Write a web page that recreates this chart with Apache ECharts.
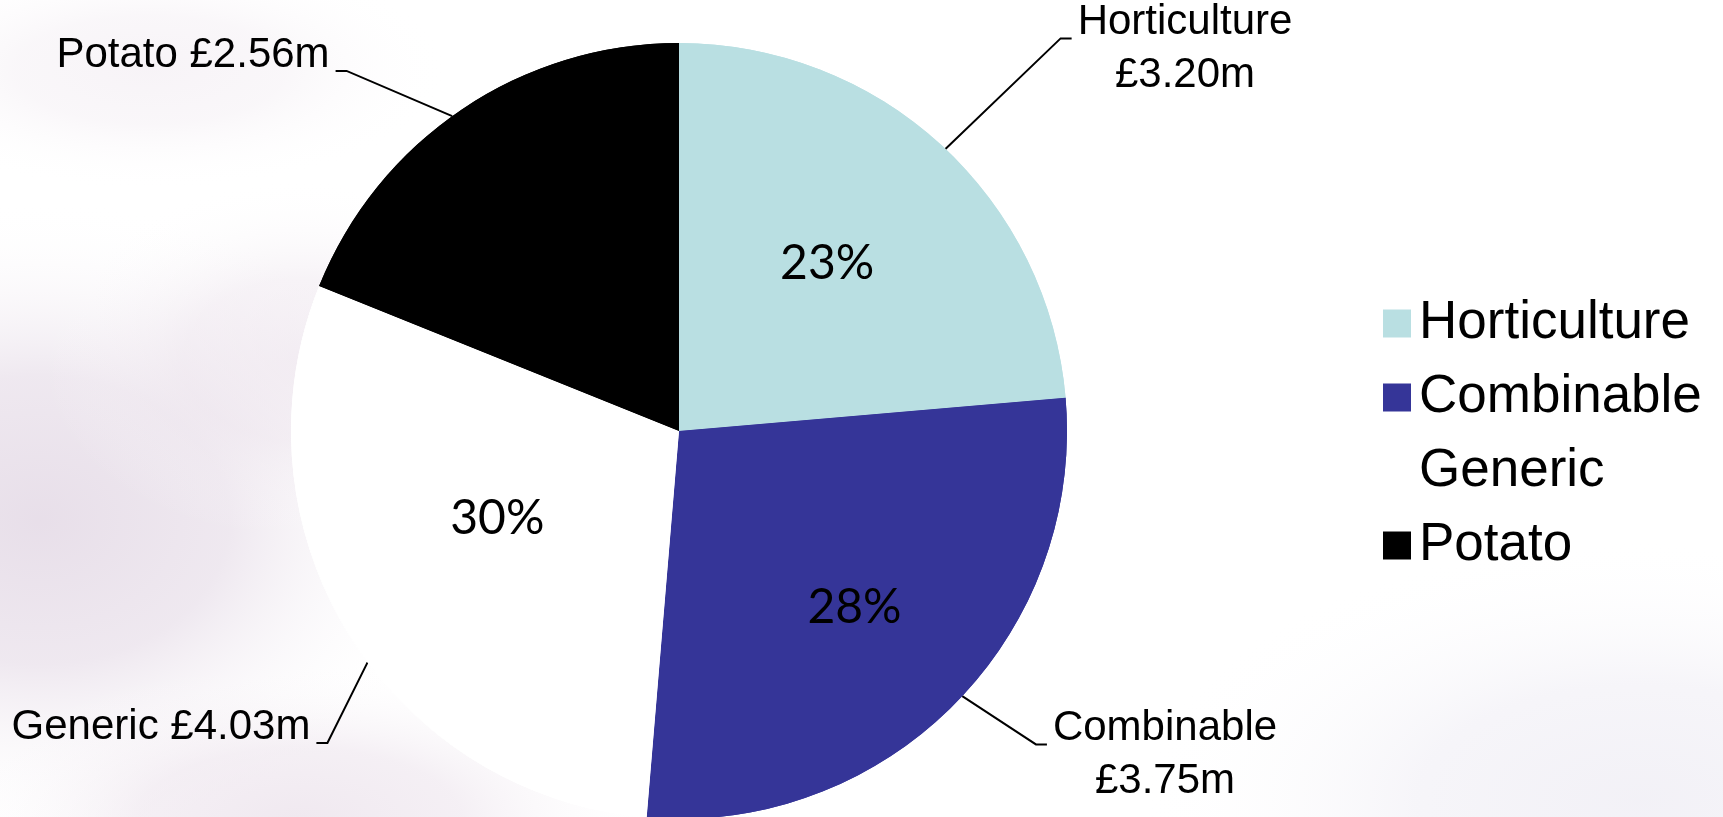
<!DOCTYPE html>
<html><head><meta charset="utf-8">
<script src="https://cdn.jsdelivr.net/npm/echarts@6/dist/echarts.min.js"></script>
<style>html,body{margin:0;padding:0;background:#fff}#chart{width:1723px;height:817px}</style>
</head><body><div id="chart"></div>
<script>
// ---- data ----
const categories = ['Horticulture', 'Combinable', 'Generic', 'Potato'];
const valuesGBPm = [3.20, 3.75, 4.03, 2.56];
const percentLabels = ['23%', '28%', '30%', ''];
const sliceColors = ['#b9dfe2', '#353598', '#ffffff', '#000000'];

// ---- layout ----
const CX = 679, CY = 431, R = 388;
const LINE_H = 53;
const calloutLayout = {
  Horticulture: { x: 1185, y: 49, wrap: true, side: 'left' },
  Combinable: { x: 1165, y: 755, wrap: true, side: 'left' },
  Generic: { x: 161, y: 727, wrap: false, side: 'right' },
  Potato: { x: 193, y: 55, wrap: false, side: 'right' }
};
const pctOffset = { Horticulture: [15, -22], Combinable: [36, 37], Generic: [-14, -16], Potato: [0, 0] };

const total = valuesGBPm.reduce((a, b) => a + b, 0);
const midAngles = [];
(function () {
  let acc = 0;
  valuesGBPm.forEach(v => {
    const a0 = 90 - acc / total * 360; acc += v;
    const a1 = 90 - acc / total * 360;
    midAngles.push((a0 + a1) / 2);
  });
})();

const chart = echarts.init(document.getElementById('chart'), null, { renderer: 'canvas' });

function glow(x, y, rx, ry, color) {
  return {
    type: 'circle', z: 0, silent: true,
    x: x, y: y, scaleX: rx / 100, scaleY: ry / 100,
    shape: { cx: 0, cy: 0, r: 100 },
    style: {
      fill: new echarts.graphic.RadialGradient(0.5, 0.5, 0.5, [
        { offset: 0, color: color },
        { offset: 0.45, color: color.replace(/[\d.]+\)$/, m => (parseFloat(m) * 0.7).toFixed(3) + ')') },
        { offset: 1, color: 'rgba(255,255,255,0)' }
      ])
    }
  };
}

const mainData = categories.map((n, i) => ({
  name: n, value: valuesGBPm[i],
  itemStyle: { color: sliceColors[i] },
  label: { show: percentLabels[i] !== '', offset: pctOffset[n] }
}));
const calloutData = categories.map((n, i) => ({
  name: n, value: valuesGBPm[i],
  itemStyle: { color: sliceColors[i] }
}));

chart.setOption({
  animation: false,
  backgroundColor: '#ffffff',
  graphic: [
    glow(40, 520, 420, 320, 'rgba(224,212,226,0.75)'),
    glow(300, 360, 260, 180, 'rgba(234,224,234,0.55)'),
    glow(300, 820, 360, 160, 'rgba(230,218,230,0.6)'),
    glow(150, 70, 300, 120, 'rgba(242,236,242,0.6)'),
    glow(1640, 800, 500, 260, 'rgba(237,235,243,0.7)')
  ],
  legend: {
    orient: 'vertical', left: 1378, top: 292,
    icon: 'rect', itemWidth: 28, itemHeight: 28, itemGap: 21,
    selectedMode: false,
    data: categories,
    textStyle: { fontFamily: 'Liberation Sans, Arial, sans-serif', fontSize: 53, color: '#000', padding: [0, 0, 0, 3] }
  },
  series: [
    {
      type: 'pie', z: 3, silent: true,
      center: [CX, CY], radius: R, startAngle: 90, clockwise: true,
      emphasis: { disabled: true },
      label: {
        show: true, position: 'inside',
        formatter: p => percentLabels[p.dataIndex],
        fontFamily: 'Lato, Carlito, sans-serif', fontSize: 48, color: '#000'
      },
      labelLine: { show: false },
      data: mainData
    },
    {
      type: 'pie', z: 2, silent: true, legendHoverLink: false,
      center: [CX, CY], radius: R, startAngle: 90, clockwise: true,
      avoidLabelOverlap: false,
      emphasis: { disabled: true },
      label: {
        show: true, position: 'outside',
        formatter: p => {
          const cfg = calloutLayout[p.name];
          const v = '£' + p.value.toFixed(2) + 'm';
          return cfg.wrap ? p.name + '\n' + v : p.name + ' ' + v;
        },
        fontFamily: 'Liberation Sans, Arial, sans-serif', fontSize: 42,
        lineHeight: LINE_H, color: '#000', align: 'center'
      },
      labelLine: { show: true, length: 20, length2: 10, lineStyle: { color: '#000', width: 2 } },
      labelLayout: function (params) {
        const i = params.dataIndex;
        const cfg = calloutLayout[categories[i]];
        const w = params.labelRect.width, h = params.labelRect.height;
        const left = cfg.x - w / 2, top = cfg.y - h / 2;
        const tickY = top + LINE_H * 0.8;
        const edgeX = cfg.side === 'left' ? left - 6 : left + w + 6;
        const elbowX = cfg.side === 'left' ? edgeX - 11 : edgeX + 11;
        let dirAng = Math.atan2(-(tickY - CY), elbowX - CX) * 180 / Math.PI;
        const mid = midAngles[i];
        while (dirAng - mid > 180) dirAng -= 360;
        while (dirAng - mid < -180) dirAng += 360;
        const wMid = cfg.side === 'right' && !cfg.wrap && i === 3 ? 0.8 : 0.5;
        const a = (mid * wMid + dirAng * (1 - wMid)) * Math.PI / 180;
        const start = [CX + R * Math.cos(a), CY - R * Math.sin(a)];
        return {
          x: cfg.x, y: cfg.y, align: 'center', verticalAlign: 'middle',
          labelLinePoints: [start, [elbowX, tickY], [edgeX, tickY]]
        };
      },
      data: calloutData
    }
  ]
});
</script>
</body></html>
